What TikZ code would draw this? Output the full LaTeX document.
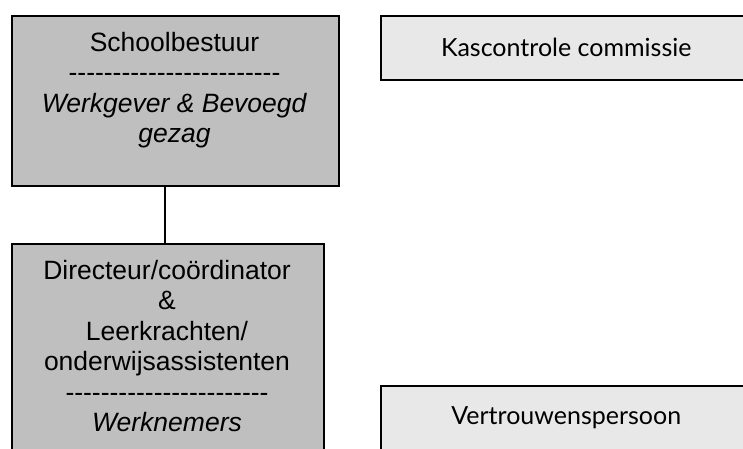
\documentclass[tikz,border=0pt]{standalone}
\usepackage{fontspec}
\setmainfont{Liberation Sans}
\newfontfamily\gillfont{Lato}
\usetikzlibrary{positioning}
\newcommand{\dashrow}[1]{\foreach \d in {1,...,#1}{\mbox{-}}}

\begin{document}
\begin{tikzpicture}[x=1pt,y=1pt,
	darkbox/.style={draw, rectangle, line width=1.5pt, fill=gray!50, anchor=north west, inner sep=0pt},
	lightbox/.style={draw, rectangle, line width=1.5pt, fill=black!9, anchor=north west, inner sep=0pt, font=\gillfont\fontsize{25}{30}\selectfont},
	boxtext/.style={anchor=north, align=center, inner sep=0pt, font=\fontsize{26.5}{30.5}\selectfont}]
	\useasboundingbox (0,0) rectangle (743,-448);
	\clip (0,0) rectangle (743,-448);
	\node (bestuur) [darkbox, minimum width=327pt, minimum height=170pt] at (11,-15) {};
	\node (bestuurtekst) [boxtext] at (174.5,-32) {Schoolbestuur\\ \dashrow{24}\\ \textit{Werkgever \& Bevoegd}\\ \textit{gezag}};
	\node (werknemers) [darkbox, minimum width=312pt, minimum height=230pt] at (11,-243) {};
	\node (werknemerstekst) [boxtext] at (167,-260) {Directeur/coördinator\\ \&\\ Leerkrachten/\\ onderwijsassistenten\\ \dashrow{23}\\ \textit{Werknemers}};
	\node (kascontrole) [lightbox, minimum width=371pt, minimum height=64pt] at (380,-15) {Kascontrole commissie};
	\node (vertrouwen) [lightbox, minimum width=371pt, minimum height=64pt] at (380,-385) {Vertrouwenspersoon};

	% Lines
	\draw[line width=1.5pt] ([xshift=-3pt]werknemers.north) -- ([xshift=-3pt]werknemers.north |- bestuur.south);
\end{tikzpicture}
\end{document}
